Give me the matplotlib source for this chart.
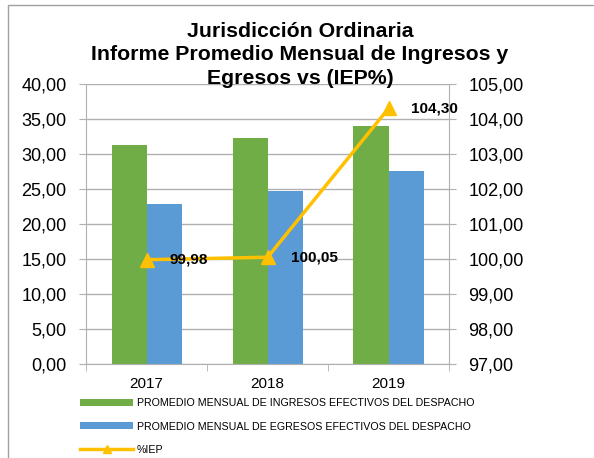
import matplotlib.pyplot as plt
import numpy as np
from matplotlib.patches import Rectangle

plt.rcParams["font.family"] = ["Liberation Sans", "DejaVu Sans"]

# -------------------------
# Data
# -------------------------
years = ["2017", "2018", "2019"]
ingresos = [31.3, 32.3, 34.0]
egresos = [22.9, 24.7, 27.6]
iep = [99.98, 100.05, 104.30]
iep_labels = ["99,98", "100,05", "104,30"]

label_ing = "PROMEDIO MENSUAL DE INGRESOS EFECTIVOS DEL DESPACHO"
label_egr = "PROMEDIO MENSUAL DE EGRESOS EFECTIVOS DEL DESPACHO"
label_iep = "%IEP"

GREEN = "#70AD47"
BLUE = "#5B9BD5"
GOLD = "#FFC000"
GRID = "#B0B0B0"


def comma(v, _pos=None):
    return f"{v:.2f}".replace(".", ",")


fig = plt.figure(figsize=(5.94, 4.58), dpi=100)
ax = fig.add_axes([0.145, 0.205, 0.611, 0.612])

x = np.arange(len(years))
w = 0.29
ax.bar(x - w / 2, ingresos, w, color=GREEN, label=label_ing, zorder=2)
ax.bar(x + w / 2, egresos, w, color=BLUE, label=label_egr, zorder=2)

ax.set_xlim(-0.5, len(years) - 0.5)
ax.set_ylim(0, 40)
ax.set_yticks(np.arange(0, 40.1, 5))
ax.yaxis.set_major_formatter(plt.FuncFormatter(comma))
ax.set_xticks(x)
ax.set_xticklabels(years, fontsize=11)
ax.set_xticks(np.arange(-0.5, len(years)), minor=True)
ax.tick_params(axis="x", which="major", length=0, pad=9)
ax.tick_params(axis="x", which="minor", length=5, color=GRID)
ax.tick_params(axis="y", labelsize=13, length=5, color=GRID, pad=9)
ax.grid(axis="y", color=GRID, linewidth=1, zorder=0)
for s in ["top", "right"]:
    ax.spines[s].set_visible(False)
for s in ["left", "bottom"]:
    ax.spines[s].set_color(GRID)

ax2 = ax.twinx()
ax2.set_ylim(97, 105)
ax2.set_yticks(np.arange(97, 105.1, 1))
ax2.yaxis.set_major_formatter(plt.FuncFormatter(comma))
ax2.tick_params(axis="y", labelsize=13, length=5, color=GRID, pad=9)
for s in ["top", "left", "bottom"]:
    ax2.spines[s].set_visible(False)
ax2.spines["right"].set_color(GRID)
ax2.plot(x, iep, color=GOLD, linewidth=2.5, marker="^", markersize=10,
         label=label_iep, zorder=3)
for xi, yi, lab in zip(x, iep, iep_labels):
    ax2.annotate(lab, (xi, yi), xytext=(16.5, 0), textcoords="offset points",
                 ha="left", va="center", fontsize=11, fontweight="bold")

fig.text(0.505, 0.952, "Jurisdicción Ordinaria\nInforme Promedio Mensual de Ingresos y\nEgresos vs (IEP%)",
         ha="center", va="top", fontsize=15.3, fontweight="bold", linespacing=1.3)

h1, l1 = ax.get_legend_handles_labels()
h2, l2 = ax2.get_legend_handles_labels()
leg = fig.legend(h1 + h2, l1 + l2, loc="upper left", bbox_to_anchor=(0.128, 0.14),
                 frameon=False, fontsize=7.7, handlelength=4.9, handleheight=0.6,
                 labelspacing=1.25, handletextpad=0.4, borderaxespad=0, markerscale=0.6)

fig.patches.append(Rectangle((0.013, -0.1), 1.2, 1.1 - 0.01, transform=fig.transFigure,
                             fill=False, edgecolor="#A0A0A0", linewidth=1))

fig.savefig("out.png", dpi=100)
